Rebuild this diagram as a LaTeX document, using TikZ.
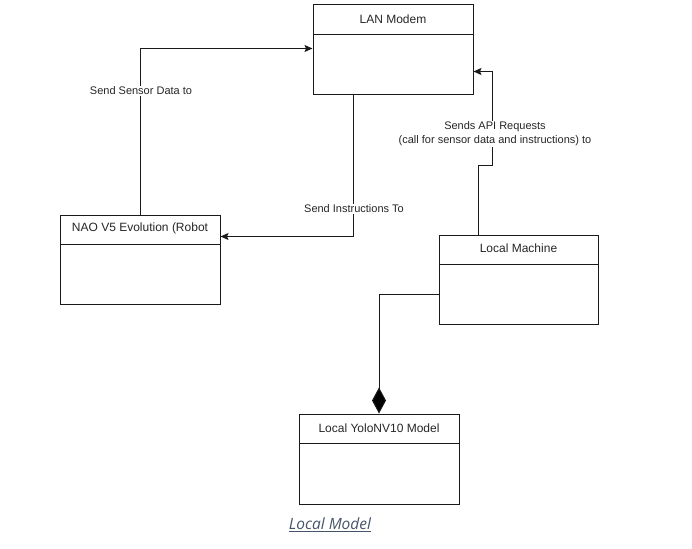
\documentclass[tikz,border=0pt]{standalone}
\usepackage{fontspec}
\setmainfont{Liberation Sans}
\newfontfamily\capfont{Open Sans}
\usetikzlibrary{arrows.meta,calc}
\definecolor{capcol}{HTML}{44546A}
\definecolor{linecol}{HTML}{1A1A1A}
\tikzset{
  umlbox/.style={draw=linecol, line width=1pt, minimum width=160pt, minimum height=90pt, inner sep=0pt},
  boxtitle/.style={font=\fontsize{12}{14}\selectfont, text=black!85, inner sep=0pt},
  conn/.style={draw=linecol, line width=1pt, -{Stealth[length=8pt,width=7pt,inset=1.5pt]}},
  comp/.style={draw=linecol, line width=1pt, -{Diamond[length=26pt,width=14pt,fill=black]}},
  lbl/.style={font=\fontsize{11}{14}\selectfont, text=black!85, fill=white, inner sep=1pt, align=center}
}
\begin{document}
\begin{tikzpicture}[x=1pt,y=-1pt]
\useasboundingbox (0,0) rectangle (692,548);
% boxes
\node[umlbox] (lan) at (393,50) {};
\node[umlbox, minimum height=89pt] (nao) at (140,259.5) {};
\node[umlbox, minimum width=159pt, minimum height=89pt] (lm) at (518.5,279.5) {};
\node[umlbox] (yolo) at (379,459) {};
% titles
\node[boxtitle] (lant) at ($(lan.north)+(0,15)$) {LAN Modem};
\node[boxtitle] (naot) at ($(nao.north)+(0,14)$) {NAO V5 Evolution (Robot};
\node[boxtitle] (lmt) at ($(lm.north)+(0,14)$) {Local Machine};
\node[boxtitle] (yolot) at ($(yolo.north)+(0,15)$) {Local YoloNV10 Model};
% header separators
\draw[linecol, line width=1pt] ($(lan.north west)+(0,30)$) -- ($(lan.north east)+(0,30)$);
\draw[linecol, line width=1pt] ($(nao.north west)+(0,30)$) -- ($(nao.north east)+(0,30)$);
\draw[linecol, line width=1pt] ($(lm.north west)+(0,30)$) -- ($(lm.north east)+(0,30)$);
\draw[linecol, line width=1pt] ($(yolo.north west)+(0,30)$) -- ($(yolo.north east)+(0,30)$);
% connector anchors
\coordinate (lanin) at ($(lan.north west)+(0,44)$);
\coordinate (lanout) at ($(lan.south)+(-40,0)$);
\coordinate (naoin) at ($(nao.north east)+(0,22)$);
\coordinate (lmout) at ($(lm.north)+(-39.8,0)$);
\coordinate (apibend) at (492.5,165);
\coordinate (lanapi) at ($(lan.north east)+(0,67)$);
\coordinate (lmleft) at ($(lm.north west)+(0,60)$);
% connectors
\draw[conn] (nao.north) |- (lanin);
\draw[conn] (lanout) |- (naoin);
\draw[conn] (lmout) |- (apibend) |- (lanapi);
\draw[comp] (lmleft) -| (yolo.north);
% labels
\node[lbl] (l1) at (141,91) {Send Sensor Data to};
\node[lbl] (l2) at (354,209) {Send Instructions To};
\node[lbl] (l3) at (495,134) {Sends API Requests\\(call for sensor data and instructions) to};
% caption
\node[font=\capfont\itshape\fontsize{15.5}{18}\selectfont, text=capcol, inner sep=0pt] (cap) at (330,525) {\underline{Local Model}};
\end{tikzpicture}
\end{document}
